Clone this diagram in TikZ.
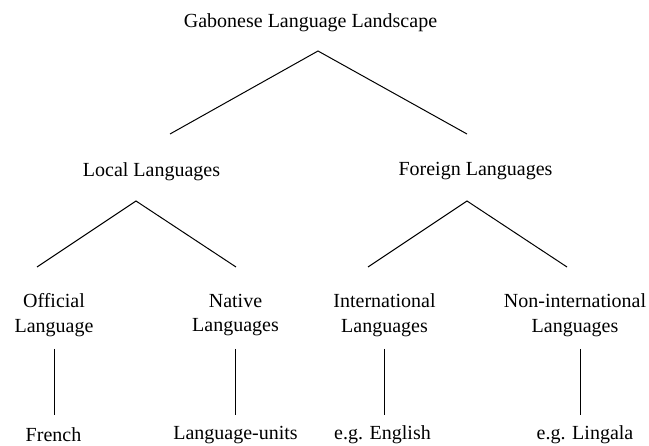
\documentclass[tikz,border=0pt]{standalone}
\usepackage{fontspec}
\setmainfont{Liberation Serif}
\tikzset{every picture/.style={line width=1pt}}
\tikzset{
  label text/.style={inner sep=0.75pt, align=center, font=\fontsize{20}{24.5}\selectfont},
  branch/.style={color=black, line width=1pt}
}
\begin{document}
\begin{tikzpicture}[x=1pt,y=1pt,yscale=-1,xscale=1]
    \useasboundingbox (0,0) rectangle (649,446);

    % Text Node
    \node [label text] (landscape) at (310.5,22.5) {Gabonese Language Landscape};
    % Text Node
    \node [label text] (local) at (151.5,171.5) {Local Languages};
    % Text Node
    \node [label text] (foreign) at (475.5,171.5) {Foreign Languages};
    % Text Node
    \node [label text] (official) at (54,315) {Official\\Language};
    % Text Node
    \node [label text] (native) at (235.5,315) {Native\\Languages};
    % Text Node
    \node [label text] (international) at (384.5,315) {International\\Languages};
    % Text Node
    \node [label text] (noninternational) at (575,315) {Non-international\\Languages};
    % Text Node
    \node [label text] (french) at (53.5,435) {French};
    % Text Node
    \node [label text] (units) at (235.5,435) {Language-units};
    % Text Node
    \node [label text] (english) at (382.5,435) {e.g. English};
    % Text Node
    \node [label text] (lingala) at (585,435) {e.g. Lingala};

    %Branch points
    \coordinate (landscape apex) at (318,51);
    \coordinate (local top) at (170,134);
    \coordinate (foreign top) at (467,134);
    \coordinate (local apex) at (136,201);
    \coordinate (official top) at (37,267);
    \coordinate (native top) at (236,267);
    \coordinate (foreign apex) at (467,201);
    \coordinate (international top) at (368,267);
    \coordinate (noninternational top) at (567,267);

    %Straight Lines
    \draw [branch] (local top) -- (landscape apex) -- (foreign top);
    %Straight Lines
    \draw [branch] (official top) -- (local apex) -- (native top);
    %Straight Lines
    \draw [branch] (international top) -- (foreign apex) -- (noninternational top);

    %Straight Lines
    \draw [branch] (official.south |- 0,349) -- (official.south |- 0,415);
    \draw [branch] (native.south |- 0,349) -- (native.south |- 0,415);
    \draw [branch] (international.south |- 0,349) -- (international.south |- 0,415);
    \draw [branch] (580,349) -- (580,415);

\end{tikzpicture}
\end{document}
